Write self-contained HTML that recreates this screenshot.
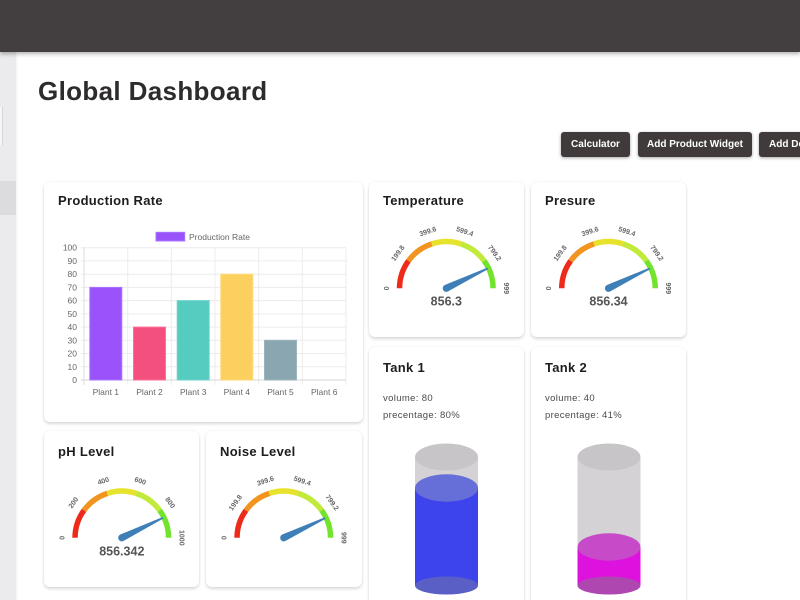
<!DOCTYPE html>
<html><head><meta charset="utf-8"><style>
*{margin:0;padding:0;box-sizing:border-box}
html,body{width:800px;height:600px;overflow:hidden}
body{background:#fff;font-family:"Liberation Sans",sans-serif;position:relative}
.topbar{position:absolute;left:0;top:0;width:800px;height:52px;background:#433e3f;box-shadow:0 2px 4px rgba(0,0,0,.3);z-index:3}
.side{position:absolute;left:0;top:52px;width:16px;height:548px;background:#ebeaec;box-shadow:1px 0 2px rgba(0,0,0,.06)}
.side .a{position:absolute;left:0;top:55px;width:3px;height:38px;background:#f6f5f6;border-right:1px solid #d6d5d7}
.side .b{position:absolute;left:0;top:129px;width:16px;height:34px;background:#dcdbdd}
h1{position:absolute;left:38px;top:76px;font-size:26px;line-height:30px;font-weight:bold;color:#2e2b2c;letter-spacing:.35px}
.btn{position:absolute;top:132px;height:25px;background:#403a3b;color:#fff;font-weight:bold;font-size:10px;line-height:25px;text-align:center;border-radius:3px;box-shadow:0 1px 3px rgba(0,0,0,.35);white-space:nowrap;overflow:hidden}
.card{position:absolute;background:#fff;border-radius:6px;box-shadow:0 2px 3px rgba(0,0,0,.14),0 0 2px rgba(0,0,0,.07)}
.t{position:absolute;font-size:13px;font-weight:bold;color:#1e1c1d;line-height:16px;letter-spacing:.3px;white-space:nowrap}
.s{position:absolute;font-size:9.5px;color:#4a4a4a;line-height:12px;letter-spacing:.35px;white-space:nowrap}
svg{position:absolute;left:0;top:0}
</style></head><body>
<div class="topbar"></div>
<div class="side"><div class="a"></div><div class="b"></div></div>
<h1>Global Dashboard</h1>
<div class="btn" style="left:561px;width:69px">Calculator</div>
<div class="btn" style="left:638px;width:114px">Add Product Widget</div>
<div class="btn" style="left:759px;width:60px;text-align:left;padding-left:10px">Add Device</div>

<div class="card" style="left:44px;top:182px;width:319px;height:240px"></div>
<div class="card" style="left:369px;top:182px;width:155px;height:155px"></div>
<div class="card" style="left:531px;top:182px;width:155px;height:155px"></div>
<div class="card" style="left:44px;top:431px;width:155px;height:156px"></div>
<div class="card" style="left:206px;top:431px;width:156px;height:156px"></div>
<div class="card" style="left:369px;top:347px;width:155px;height:253px;border-bottom-left-radius:0;border-bottom-right-radius:0"></div>
<div class="card" style="left:531px;top:347px;width:155px;height:253px;border-bottom-left-radius:0;border-bottom-right-radius:0"></div>

<div class="t" style="left:58px;top:193px">Production Rate</div>
<div class="t" style="left:383px;top:193px">Temperature</div>
<div class="t" style="left:545px;top:193px">Presure</div>
<div class="t" style="left:58px;top:444px">pH Level</div>
<div class="t" style="left:220px;top:444px">Noise Level</div>
<div class="t" style="left:383px;top:360px">Tank 1</div>
<div class="t" style="left:545px;top:360px">Tank 2</div>
<div class="s" style="left:383px;top:393px">volume: 80</div>
<div class="s" style="left:383px;top:410px">precentage: 80%</div>
<div class="s" style="left:545px;top:393px">volume: 40</div>
<div class="s" style="left:545px;top:410px">precentage: 41%</div>

<svg width="800" height="600" viewBox="0 0 800 600" font-family="Liberation Sans, sans-serif">
<!-- bar chart -->
<g stroke="#ececec" stroke-width="1">
<line x1="81" y1="366.8" x2="346" y2="366.8"/><line x1="81" y1="353.5" x2="346" y2="353.5"/>
<line x1="81" y1="340.3" x2="346" y2="340.3"/><line x1="81" y1="327.1" x2="346" y2="327.1"/>
<line x1="81" y1="313.9" x2="346" y2="313.9"/><line x1="81" y1="300.6" x2="346" y2="300.6"/>
<line x1="81" y1="287.4" x2="346" y2="287.4"/><line x1="81" y1="274.2" x2="346" y2="274.2"/>
<line x1="81" y1="260.9" x2="346" y2="260.9"/><line x1="81" y1="247.7" x2="346" y2="247.7"/>
<line x1="127.7" y1="247.7" x2="127.7" y2="385"/><line x1="171.3" y1="247.7" x2="171.3" y2="385"/>
<line x1="215" y1="247.7" x2="215" y2="385"/><line x1="258.7" y1="247.7" x2="258.7" y2="385"/>
<line x1="302.3" y1="247.7" x2="302.3" y2="385"/><line x1="346" y1="247.7" x2="346" y2="385"/>
</g>
<line x1="84" y1="247.7" x2="84" y2="385" stroke="#dcdcdc"/>
<line x1="81" y1="380" x2="346" y2="380" stroke="#d4d4d4"/>
<rect x="89.8" y="287.4" width="32" height="92.6" fill="#9a53fa" stroke="#a874ff" stroke-width="1"/>
<rect x="133.5" y="327.1" width="32" height="52.9" fill="#f4507f" stroke="#ff6f96" stroke-width="1"/>
<rect x="177.2" y="300.6" width="32" height="79.4" fill="#56cbbf" stroke="#6ed5cb" stroke-width="1"/>
<rect x="220.8" y="274.2" width="32" height="105.8" fill="#fcd05e" stroke="#ffd978" stroke-width="1"/>
<rect x="264.5" y="340.3" width="32" height="39.7" fill="#89a6b1" stroke="#9bb4be" stroke-width="1"/>
<rect x="156" y="232.3" width="28.7" height="8.7" fill="#9a53fa" stroke="#a874ff" stroke-width="1"/>
<text x="189" y="240" font-size="8.5" fill="#666">Production Rate</text>
<g font-size="8.5" fill="#666" text-anchor="end">
<text x="77" y="383">0</text><text x="77" y="369.8">10</text><text x="77" y="356.5">20</text>
<text x="77" y="343.3">30</text><text x="77" y="330.1">40</text><text x="77" y="316.9">50</text>
<text x="77" y="303.6">60</text><text x="77" y="290.4">70</text><text x="77" y="277.2">80</text>
<text x="77" y="263.9">90</text><text x="77" y="250.7">100</text>
</g>
<g font-size="8.5" fill="#666" text-anchor="middle">
<text x="105.8" y="395">Plant 1</text><text x="149.5" y="395">Plant 2</text><text x="193.2" y="395">Plant 3</text>
<text x="236.8" y="395">Plant 4</text><text x="280.5" y="395">Plant 5</text><text x="324.2" y="395">Plant 6</text>
</g>

<!-- Temperature gauge -->
<g transform="translate(446.3,288.3)">
<g fill="none" stroke-width="5.5">
<path d="M-46.75,0 A46.75,46.75 0 0 1 -37.82,-27.48" stroke="#ee2a1b"/>
<path d="M-37.82,-27.48 A46.75,46.75 0 0 1 -14.45,-44.46" stroke="#f19520"/>
<path d="M-14.45,-44.46 A46.75,46.75 0 0 1 14.45,-44.46" stroke="#e7e22c"/>
<path d="M14.45,-44.46 A46.75,46.75 0 0 1 37.82,-27.48" stroke="#c2ea3a"/>
<path d="M37.82,-27.48 A46.75,46.75 0 0 1 46.75,0" stroke="#72e42e"/>
</g>
<g font-size="7" font-weight="bold" fill="#666" text-anchor="middle" dominant-baseline="central">
<text transform="rotate(-90) translate(0,-59)">0</text>
<text transform="rotate(-54) translate(0,-59)">199.8</text>
<text transform="rotate(-18) translate(0,-59)">399.6</text>
<text transform="rotate(18) translate(0,-59)">599.4</text>
<text transform="rotate(54) translate(0,-59)">799.2</text>
<text transform="rotate(90) translate(0,-59)">999</text>
</g>
<path d="M0,-3.6 L46,-0.8 L46,0.8 L0,3.6 A3.6,3.6 0 0 1 0,-3.6Z" fill="#3f7fb8" transform="rotate(-25.7)"/>
<text y="13" font-size="12.5" font-weight="bold" fill="#555" text-anchor="middle" dominant-baseline="central">856.3</text>
</g>

<!-- Presure gauge -->
<g transform="translate(608.5,288.3)">
<g fill="none" stroke-width="5.5">
<path d="M-46.75,0 A46.75,46.75 0 0 1 -37.82,-27.48" stroke="#ee2a1b"/>
<path d="M-37.82,-27.48 A46.75,46.75 0 0 1 -14.45,-44.46" stroke="#f19520"/>
<path d="M-14.45,-44.46 A46.75,46.75 0 0 1 14.45,-44.46" stroke="#e7e22c"/>
<path d="M14.45,-44.46 A46.75,46.75 0 0 1 37.82,-27.48" stroke="#c2ea3a"/>
<path d="M37.82,-27.48 A46.75,46.75 0 0 1 46.75,0" stroke="#72e42e"/>
</g>
<g font-size="7" font-weight="bold" fill="#666" text-anchor="middle" dominant-baseline="central">
<text transform="rotate(-90) translate(0,-59)">0</text>
<text transform="rotate(-54) translate(0,-59)">199.8</text>
<text transform="rotate(-18) translate(0,-59)">399.6</text>
<text transform="rotate(18) translate(0,-59)">599.4</text>
<text transform="rotate(54) translate(0,-59)">799.2</text>
<text transform="rotate(90) translate(0,-59)">999</text>
</g>
<path d="M0,-3.6 L46,-0.8 L46,0.8 L0,3.6 A3.6,3.6 0 0 1 0,-3.6Z" fill="#3f7fb8" transform="rotate(-25.7)"/>
<text y="13" font-size="12.5" font-weight="bold" fill="#555" text-anchor="middle" dominant-baseline="central">856.34</text>
</g>

<!-- pH gauge -->
<g transform="translate(121.8,537.8)">
<g fill="none" stroke-width="5.5">
<path d="M-46.75,0 A46.75,46.75 0 0 1 -37.82,-27.48" stroke="#ee2a1b"/>
<path d="M-37.82,-27.48 A46.75,46.75 0 0 1 -14.45,-44.46" stroke="#f19520"/>
<path d="M-14.45,-44.46 A46.75,46.75 0 0 1 14.45,-44.46" stroke="#e7e22c"/>
<path d="M14.45,-44.46 A46.75,46.75 0 0 1 37.82,-27.48" stroke="#c2ea3a"/>
<path d="M37.82,-27.48 A46.75,46.75 0 0 1 46.75,0" stroke="#72e42e"/>
</g>
<g font-size="7" font-weight="bold" fill="#666" text-anchor="middle" dominant-baseline="central">
<text transform="rotate(-90) translate(0,-59)">0</text>
<text transform="rotate(-54) translate(0,-59)">200</text>
<text transform="rotate(-18) translate(0,-59)">400</text>
<text transform="rotate(18) translate(0,-59)">600</text>
<text transform="rotate(54) translate(0,-59)">800</text>
<text transform="rotate(90) translate(0,-59)">1000</text>
</g>
<path d="M0,-3.6 L46,-0.8 L46,0.8 L0,3.6 A3.6,3.6 0 0 1 0,-3.6Z" fill="#3f7fb8" transform="rotate(-25.9)"/>
<text y="13.5" font-size="12.5" font-weight="bold" fill="#555" text-anchor="middle" dominant-baseline="central">856.342</text>
</g>

<!-- Noise gauge -->
<g transform="translate(283.8,537.8)">
<g fill="none" stroke-width="5.5">
<path d="M-46.75,0 A46.75,46.75 0 0 1 -37.82,-27.48" stroke="#ee2a1b"/>
<path d="M-37.82,-27.48 A46.75,46.75 0 0 1 -14.45,-44.46" stroke="#f19520"/>
<path d="M-14.45,-44.46 A46.75,46.75 0 0 1 14.45,-44.46" stroke="#e7e22c"/>
<path d="M14.45,-44.46 A46.75,46.75 0 0 1 37.82,-27.48" stroke="#c2ea3a"/>
<path d="M37.82,-27.48 A46.75,46.75 0 0 1 46.75,0" stroke="#72e42e"/>
</g>
<g font-size="7" font-weight="bold" fill="#666" text-anchor="middle" dominant-baseline="central">
<text transform="rotate(-90) translate(0,-59)">0</text>
<text transform="rotate(-54) translate(0,-59)">199.8</text>
<text transform="rotate(-18) translate(0,-59)">399.6</text>
<text transform="rotate(18) translate(0,-59)">599.4</text>
<text transform="rotate(54) translate(0,-59)">799.2</text>
<text transform="rotate(90) translate(0,-59)">999</text>
</g>
<path d="M0,-3.6 L46,-0.8 L46,0.8 L0,3.6 A3.6,3.6 0 0 1 0,-3.6Z" fill="#3f7fb8" transform="rotate(-25.5)"/>
</g>

<!-- Tank 1 -->
<rect x="415" y="457" width="63" height="128.5" fill="#d4d2d4"/>
<ellipse cx="446.5" cy="457" rx="31.5" ry="13.5" fill="#c7c5c7"/>
<rect x="415" y="488" width="63" height="97.5" fill="#3d44ec"/>
<ellipse cx="446.5" cy="585.5" rx="31.5" ry="9" fill="#5a5fc6"/>
<ellipse cx="446.5" cy="488" rx="31.5" ry="13.7" fill="#666ed8"/>

<!-- Tank 2 -->
<rect x="577.5" y="457" width="63" height="128.5" fill="#d4d2d4"/>
<ellipse cx="609" cy="457" rx="31.5" ry="13.5" fill="#c7c5c7"/>
<rect x="577.5" y="547" width="63" height="38.5" fill="#de12de"/>
<ellipse cx="609" cy="585.5" rx="31.5" ry="9" fill="#ae47b0"/>
<ellipse cx="609" cy="547" rx="31.5" ry="13.7" fill="#c74ac9"/>
</svg>
</body></html>
